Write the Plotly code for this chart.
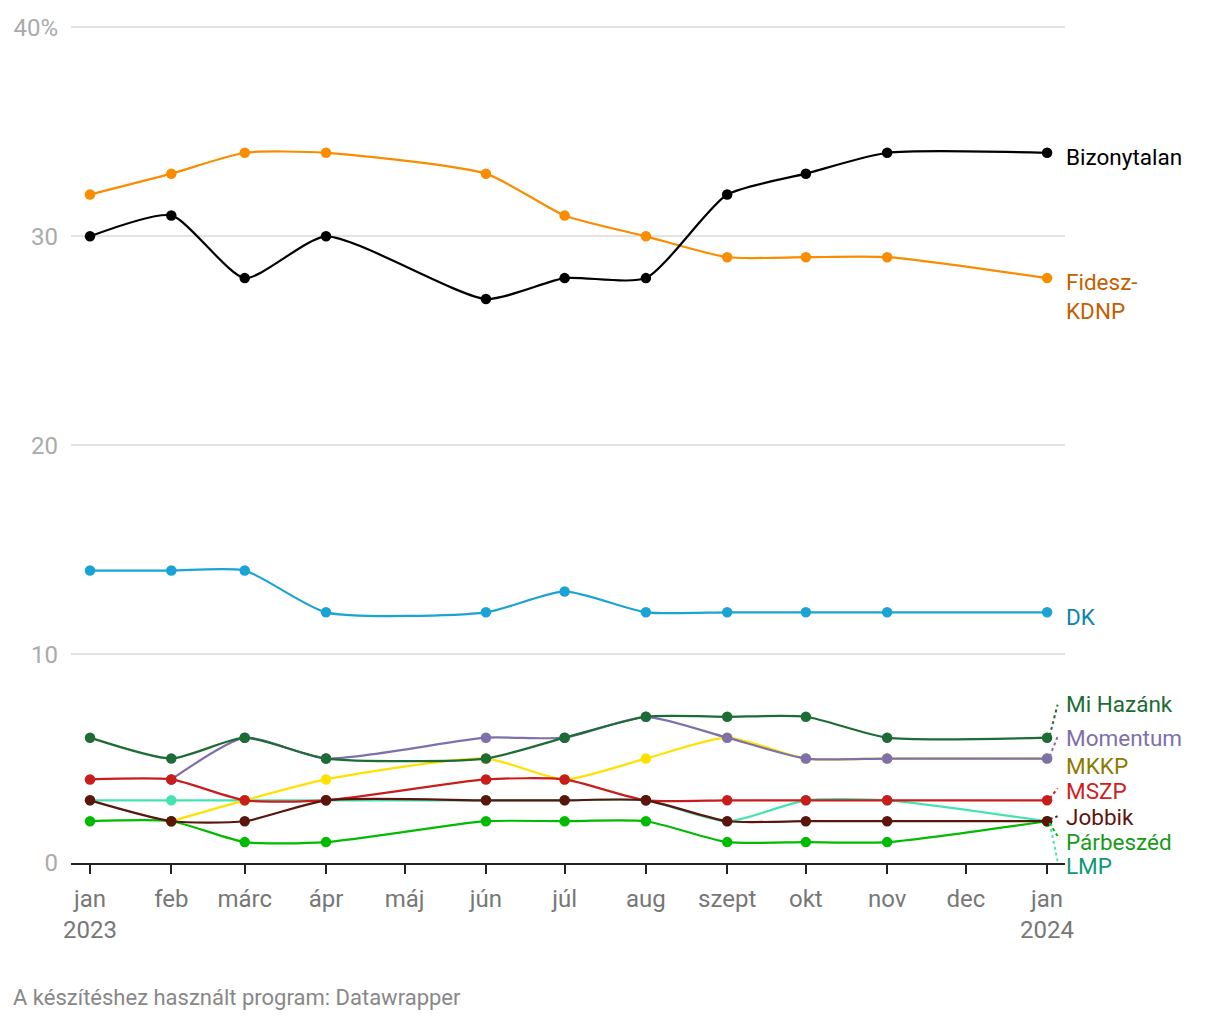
import plotly.graph_objects as go

# ---- data ----
dates = ["2023-01-01", "2023-02-01", "2023-03-01", "2023-04-01", "2023-06-01",
         "2023-07-01", "2023-08-01", "2023-09-01", "2023-10-01", "2023-11-01", "2024-01-01"]

lmp        = [3, 3, 3, 3, 3, 3, 3, 2, 3, 3, 2]
mkkp       = [None, 2, 3, 4, 5, 4, 5, 6, 5, 5, 5]
parbeszed  = [2, 2, 1, 1, 2, 2, 2, 1, 1, 1, 2]
momentum   = [None, 4, 6, 5, 6, 6, 7, 6, 5, 5, 5]
mszp       = [4, 4, 3, 3, 4, 4, 3, 3, 3, 3, 3]
jobbik     = [3, 2, 2, 3, 3, 3, 3, 2, 2, 2, 2]
mi_hazank  = [6, 5, 6, 5, 5, 6, 7, 7, 7, 6, 6]
dk         = [14, 14, 14, 12, 12, 13, 12, 12, 12, 12, 12]
fidesz     = [32, 33, 34, 34, 33, 31, 30, 29, 29, 29, 28]
bizonytalan = [30, 31, 28, 30, 27, 28, 28, 32, 33, 34, 34]

tick_dates = ["2023-01-01", "2023-02-01", "2023-03-01", "2023-04-01", "2023-05-01",
              "2023-06-01", "2023-07-01", "2023-08-01", "2023-09-01", "2023-10-01",
              "2023-11-01", "2023-12-01", "2024-01-01"]
tick_text = ["jan<br>2023", "feb", "márc", "ápr", "máj", "jún", "júl", "aug",
             "szept", "okt", "nov", "dec", "jan<br>2024"]
y_ticks = [0, 10, 20, 30, 40]
y_tick_text = ["0", "10", "20", "30", "40%"]

# name, values, line colour, label colour, label text, label y-shift (px), leader (px) or None
series = [
    ("LMP", lmp, "#45e3b0", "#0f9873", "LMP", -45, -40),
    ("MKKP", mkkp, "#ffe100", "#8a7b00", "MKKP", -7, None),
    ("Párbeszéd", parbeszed, "#00bb00", "#1a9a1a", "Párbeszéd", -21, -15),
    ("Momentum", momentum, "#7d70ab", "#7d70ab", "Momentum", 21, 22),
    ("MSZP", mszp, "#c91d1d", "#d01e1e", "MSZP", 9, 12),
    ("Jobbik", jobbik, "#5b150d", "#5b150d", "Jobbik", 4, 5),
    ("Mi Hazánk", mi_hazank, "#1d6b35", "#1d6b35", "Mi Hazánk", 34, 33),
    ("DK", dk, "#1ba3d6", "#0d84b0", "DK", -5, None),
    ("Fidesz-KDNP", fidesz, "#fa8c00", "#c45f00", "Fidesz-<br>KDNP", -18, None),
    ("Bizonytalan", bizonytalan, "#000000", "#000000", "Bizonytalan", -4, None),
]

FONT = "Roboto, 'Noto Sans', sans-serif"
Y_MAX = 40.5
PPU = 839 / 40  # pixels per unit
PLOT_H = Y_MAX * PPU
TOP = 16 - (Y_MAX - 40) * PPU
FIG_W, FIG_H = 1212, 1012
LEFT, RIGHT = 59, 155
BOTTOM = FIG_H - (TOP + PLOT_H)

fig = go.Figure()
annotations = []
shapes = []
for name, vals, lc, tc, label, yshift, leader in series:
    xs = [d for d, v in zip(dates, vals) if v is not None]
    ys = [v for v in vals if v is not None]
    fig.add_trace(go.Scatter(
        x=xs, y=ys, mode="lines+markers", name=name,
        line=dict(color=lc, width=2.2, shape="spline", smoothing=0.6),
        marker=dict(color=lc, size=10.5),
        cliponaxis=False, showlegend=False, hoverinfo="x+y+name",
    ))
    annotations.append(dict(
        x=xs[-1], y=ys[-1], xref="x", yref="y", text=label, showarrow=False,
        xanchor="left", yanchor="middle", xshift=18, yshift=yshift, align="left",
        font=dict(family=FONT, size=22.5, color=tc),
        borderpad=0,
    ))
    if leader is not None:
        shapes.append(dict(
            type="line", xref="x", yref="y",
            x0="2024-01-02", y0=ys[-1] + (2 if leader > 0 else -2) / PPU,
            x1="2024-01-05", y1=ys[-1] + leader / PPU,
            line=dict(color=lc, width=2, dash="dot"),
        ))

annotations.append(dict(
    x=0, y=0, xref="paper", yref="paper", xshift=-LEFT, yshift=-134,
    xanchor="left", yanchor="middle", showarrow=False, borderpad=0,
    text="A készítéshez használt program: Datawrapper",
    font=dict(family=FONT, size=22, color="#888888"),
))

fig.update_layout(
    width=FIG_W, height=FIG_H,
    margin=dict(l=LEFT, r=RIGHT, t=TOP, b=BOTTOM, pad=0),
    plot_bgcolor="white", paper_bgcolor="white",
    font=dict(family=FONT),
    annotations=annotations, shapes=shapes,
    xaxis=dict(
        type="date", range=["2022-12-24 18:00", "2024-01-07 20:00"],
        tickvals=tick_dates, ticktext=tick_text,
        showgrid=False, zeroline=False,
        showline=True, linecolor="#222222", linewidth=2,
        ticks="outside", ticklen=9, tickwidth=2, tickcolor="#222222",
        ticklabelstandoff=4,
        tickfont=dict(family=FONT, size=24, color="#777777"),
    ),
    yaxis=dict(
        range=[0, Y_MAX], tickvals=y_ticks, ticktext=y_tick_text,
        showgrid=True, gridcolor="#e3e3e3", gridwidth=1.5,
        zeroline=False, showline=False, ticks="",
        ticklabelstandoff=12, ticklabeloverflow="allow",
        tickfont=dict(family=FONT, size=24, color="#aaaaaa"),
    ),
)

fig.write_html("out.html")
